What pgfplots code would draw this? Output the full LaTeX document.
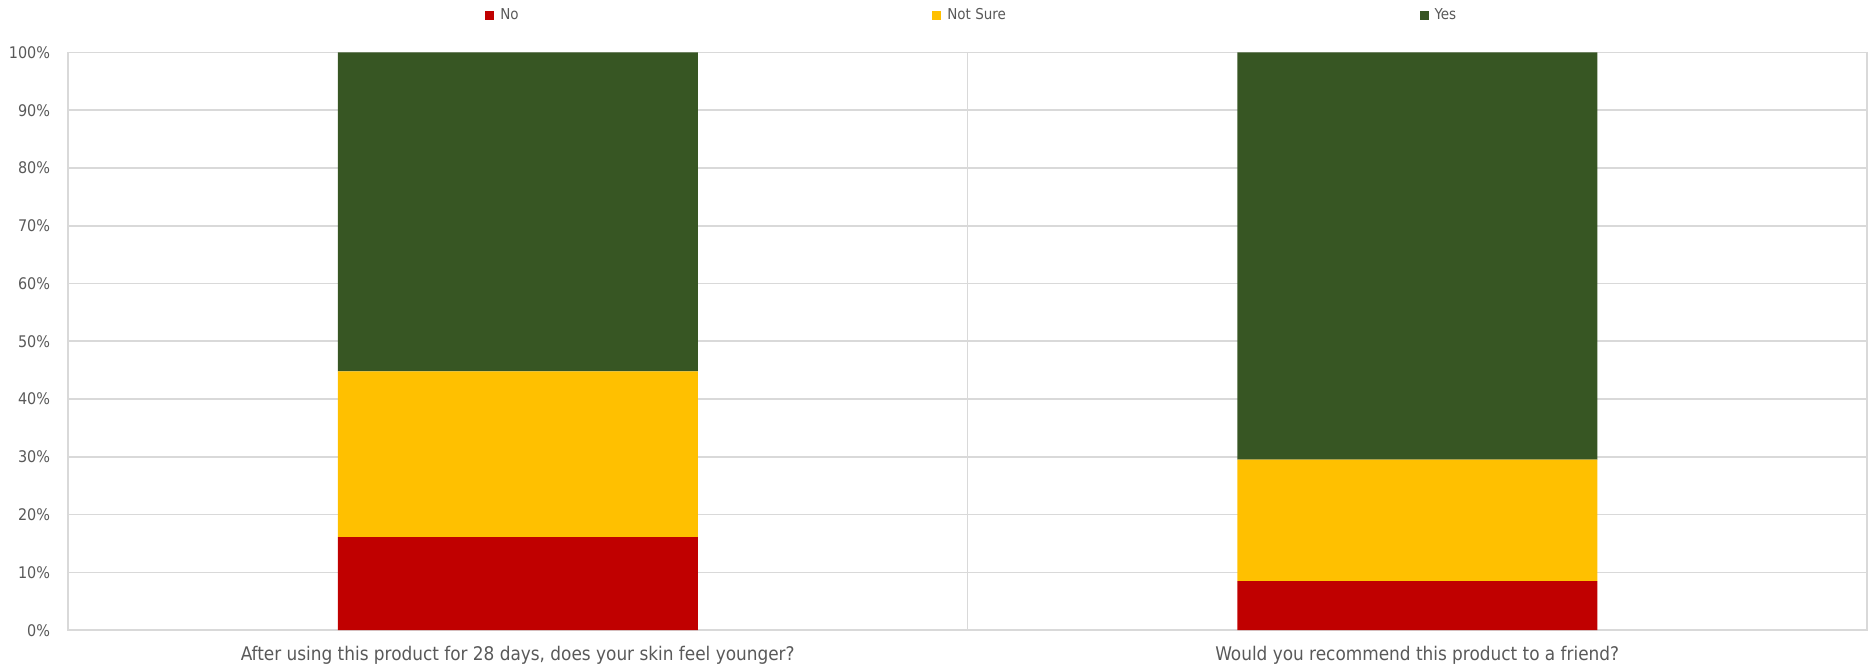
\documentclass[border=0pt]{standalone}
\usepackage{fontspec}
\setmainfont{DejaVu Sans Condensed}
\usepackage{pgfplots}
\pgfplotsset{compat=1.18}
\definecolor{cNo}{HTML}{C00000}
\definecolor{cNS}{HTML}{FFC000}
\definecolor{cYes}{HTML}{375623}
\definecolor{gridgray}{HTML}{D9D9D9}
\definecolor{txt}{HTML}{595959}
\begin{document}
\begin{tikzpicture}
\begin{axis}[name=ax, scale only axis, width=899.5pt, height=288.9pt,
  ybar stacked, bar width=180pt,
  xmin=-0.5, xmax=1.5, ymin=0, ymax=100,
  xtick={0,1},
  xticklabels={{After using this product for 28 days, does your skin feel younger?}, {Would you recommend this product to a friend?}},
  extra x ticks={0.5}, extra x tick labels={},
  extra x tick style={xmajorgrids=true, major grid style={draw=gridgray, line width=0.8pt}},
  ytick={0,10,...,100},
  yticklabel={\pgfmathprintnumber{\tick}\%},
  /pgf/number format/assume math mode=true,
  ymajorgrids, grid style={draw=gridgray, line width=0.8pt},
  axis line style={draw=gridgray, line width=0.8pt},
  major tick length=0pt,
  tick label style={text=txt},
  yticklabel style={font=\fontsize{8pt}{10pt}\selectfont, inner sep=0pt, xshift=-8.8pt},
  xticklabel style={font=\fontsize{9.4pt}{11pt}\selectfont, inner sep=0pt, yshift=-8pt},
  area legend,
  legend image code/.code={\fill[#1,draw=none] (0pt,-2.25pt) rectangle (4.5pt,2.25pt); \path (7.5pt,0pt);},
  legend columns=3,
  legend style={draw=none, fill=none, inner sep=0pt, at={(0,1)}, anchor=west, xshift=208.5pt, yshift=18.5pt,
    font=\fontsize{7.5pt}{9pt}\selectfont, text=txt, column sep=0pt,
    nodes={inner sep=0pt},
    /tikz/every even column/.append style={column sep=206.8pt}},
  legend cell align=left,
]
\addplot[fill=cNo, draw=none] coordinates {(0,16.1) (1,8.5)};
\addplot[fill=cNS, draw=none] coordinates {(0,28.7) (1,21.0)};
\addplot[fill=cYes, draw=none] coordinates {(0,55.2) (1,70.5)};
\legend{No, Not Sure, Yes}
\end{axis}
\pgfresetboundingbox
\path ([xshift=-34pt,yshift=-19.5pt]ax.south west) rectangle ([xshift=4pt,yshift=26.2pt]ax.north east);
\end{tikzpicture}
\end{document}
